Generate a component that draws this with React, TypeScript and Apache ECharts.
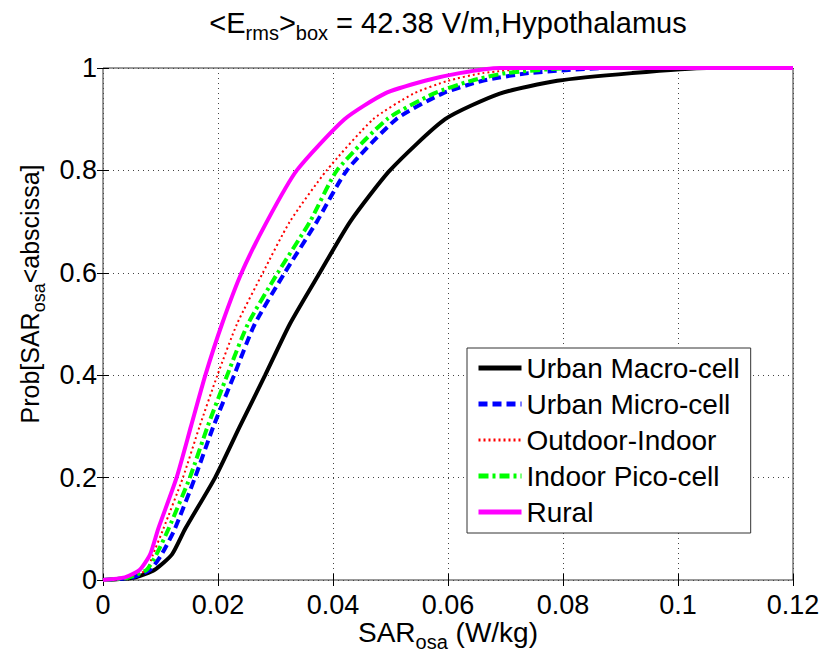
import React, { useEffect, useRef } from "react";
import * as echarts from "echarts";

const probLevels = [0, 0.005, 0.02, 0.05, 0.1, 0.2, 0.3, 0.4, 0.5, 0.6, 0.7, 0.8, 0.9, 0.95, 0.975, 0.99, 1, 1];
const urbanMacro = [0, 0.0055, 0.009, 0.012, 0.0143, 0.0195, 0.0238, 0.0282, 0.0325, 0.0377, 0.043, 0.0499, 0.0595, 0.069, 0.079, 0.092, 0.105, 0.12];
const urbanMicro = [0, 0.005, 0.0082, 0.0102, 0.0125, 0.016, 0.0192, 0.0228, 0.0264, 0.0316, 0.0372, 0.0424, 0.051, 0.059, 0.066, 0.074, 0.088, 0.12];
const outdoorIndoor = [0, 0.0045, 0.0076, 0.0087, 0.0105, 0.0139, 0.0168, 0.0199, 0.0233, 0.0278, 0.0325, 0.0389, 0.047, 0.054, 0.06, 0.066, 0.076, 0.12];
const indoorPico = [0, 0.0045, 0.0076, 0.0093, 0.0114, 0.0151, 0.0182, 0.0216, 0.0252, 0.0304, 0.036, 0.0407, 0.0494, 0.0575, 0.064, 0.07, 0.082, 0.12];
const rural = [0, 0.0038, 0.0064, 0.0082, 0.0096, 0.0128, 0.0153, 0.0178, 0.0207, 0.0241, 0.0285, 0.0337, 0.042, 0.049, 0.056, 0.062, 0.069, 0.12];

const seriesNames = ["Urban Macro-cell", "Urban Micro-cell", "Outdoor-Indoor", "Indoor Pico-cell", "Rural"];
const xTickLabels = ["0", "0.02", "0.04", "0.06", "0.08", "0.1", "0.12"];
const yTickLabels = ["0", "0.2", "0.4", "0.6", "0.8", "1"];

const FONT = "Liberation Sans, Arial, Helvetica, sans-serif";

export default function App() {
  const ref = useRef<HTMLDivElement>(null);
  useEffect(() => {
    if (!ref.current) return;
    const chart = echarts.init(ref.current, null, { renderer: "svg" });
    const toPts = (xs: number[]) => xs.map((x, i) => [x, probLevels[i]]);
    const styles = [
      { color: "#000000", width: 4, type: "solid" as any },
      { color: "#0000ff", width: 4, type: [9, 5] as any },
      { color: "#ff0000", width: 2, type: [2, 3] as any },
      { color: "#00ff00", width: 4, type: [10, 4, 3, 4] as any },
      { color: "#ff00ff", width: 4, type: "solid" as any },
    ];
    const datas = [urbanMacro, urbanMicro, outdoorIndoor, indoorPico, rural];
    const sub = (fs: number, lh: number) => ({ fontSize: fs, lineHeight: lh, verticalAlign: "bottom", fontFamily: FONT, fill: "#000" });
    const tickStyle = { show: true, inside: true, length: 6, lineStyle: { color: "#000" } };
    const dotted = { show: true, lineStyle: { color: "#444", type: [1, 4], width: 1 } };
    const option: any = {
      animation: false,
      backgroundColor: "#fff",
      grid: { left: 103, right: 32, top: 68, bottom: 77, show: true, borderColor: "#333", borderWidth: 1, backgroundColor: "transparent" },
      xAxis: [
        {
          type: "value", min: 0, max: 0.12, interval: 0.02, position: "bottom",
          axisLine: { show: false }, axisTick: tickStyle,
          axisLabel: { margin: 11, fontSize: 27, fontFamily: FONT, color: "#000", formatter: (v: number) => xTickLabels[Math.round(v / 0.02)] },
          splitLine: dotted,
        },
        {
          type: "value", min: 0, max: 0.12, interval: 0.02, position: "top",
          axisLine: { show: false }, axisTick: tickStyle,
          axisLabel: { show: false }, splitLine: { show: false },
        },
      ],
      yAxis: [
        {
          type: "value", min: 0, max: 1, interval: 0.2, position: "left",
          axisLine: { show: false }, axisTick: tickStyle,
          axisLabel: { margin: 6, fontSize: 27, fontFamily: FONT, color: "#000", formatter: (v: number) => yTickLabels[Math.round(v / 0.2)] },
          splitLine: dotted,
        },
        {
          type: "value", min: 0, max: 1, interval: 0.2, position: "right",
          axisLine: { show: false }, axisTick: tickStyle,
          axisLabel: { show: false }, splitLine: { show: false },
        },
      ],
      legend: {
        orient: "vertical", left: 467, top: 348,
        backgroundColor: "#fff", borderColor: "#333", borderWidth: 1, borderRadius: 0,
        padding: [6, 11, 7, 9], itemWidth: 43, itemHeight: 14, itemGap: 8,
        itemStyle: { opacity: 0 },
        textStyle: { fontSize: 28, fontFamily: FONT, color: "#000" },
        data: seriesNames.map((n, i) => ({ name: n, lineStyle: { width: styles[i].width + 1, type: styles[i].type, color: styles[i].color } })),
      },
      series: datas.map((d, i) => ({
        name: seriesNames[i], type: "line", data: toPts(d), showSymbol: false, symbol: "none",
        smooth: 0.2,
        lineStyle: styles[i], itemStyle: { color: styles[i].color }, z: 2 + i,
      })),
      graphic: [
        {
          type: "text", x: 448, y: 23,
          style: {
            text: "<E{s|rms}>{s|box} = 42.38 V/m,Hypothalamus",
            fontSize: 29, lineHeight: 40, fontFamily: FONT, fill: "#000", align: "center", verticalAlign: "middle",
            rich: { s: sub(20, 18) },
          },
        },
        {
          type: "text", x: 448, y: 632,
          style: {
            text: "SAR{s|osa} (W/kg)",
            fontSize: 28, lineHeight: 40, fontFamily: FONT, fill: "#000", align: "center", verticalAlign: "middle",
            rich: { s: sub(20, 18) },
          },
        },
        {
          type: "text", x: 30, y: 294, rotation: Math.PI / 2,
          style: {
            text: "Prob[SAR{s|osa}<abscissa]",
            fontSize: 25, lineHeight: 36, fontFamily: FONT, fill: "#000", align: "center", verticalAlign: "middle",
            rich: { s: sub(18, 16) },
          },
        },
      ],
    };
    chart.setOption(option);
    return () => chart.dispose();
  }, []);
  return <div ref={ref} style={{ width: 825, height: 657, position: "absolute", left: 0, top: 0 }} />;
}
